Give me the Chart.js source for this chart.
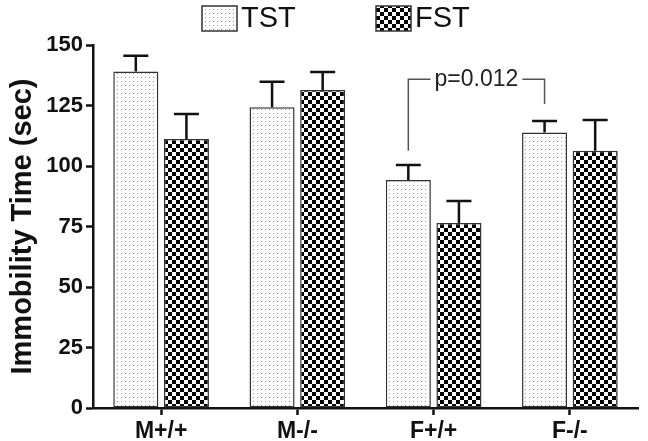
<!DOCTYPE html>
<html>
<head>
<meta charset="utf-8">
<script src="https://cdn.jsdelivr.net/npm/chart.js@4/dist/chart.umd.min.js"></script>
<style>
  html, body { margin: 0; padding: 0; background: #fff; }
</style>
</head>
<body>
<canvas id="immChart" width="648" height="441"></canvas>
<script>
// data
const groups = ["M+/+", "M-/-", "F+/+", "F-/-"];
const seriesNames = ["TST", "FST"];
const tstMean = [139, 124.3, 94.2, 113.8];
const tstSem = [6.6, 10.5, 6.2, 4.8];
const fstMean = [111.2, 131.4, 76.4, 106.3];
const fstSem = [10.3, 7.4, 9.1, 12.7];
const yTicks = [0, 25, 50, 75, 100, 125, 150];

// significance bracket: F+/+ TST vs F-/- TST
const pLabel = "p=0.012";
const bracketTop = 135.8;
const bracketLeftEnd = 106.3;
const bracketRightEnd = 125.6;

const FONT = "'Liberation Sans', Arial, sans-serif";

// fill patterns
function dotPattern() {
    const c = document.createElement("canvas");
    c.width = 4; c.height = 4;
    const g = c.getContext("2d");
    g.fillStyle = "#fff";
    g.fillRect(0, 0, 4, 4);
    g.fillStyle = "#9a9a9a";
    g.fillRect(1, 1, 1, 1);
    return g.createPattern(c, "repeat");
}
function checkerPattern() {
    const c = document.createElement("canvas");
    c.width = 8; c.height = 8;
    const g = c.getContext("2d");
    g.fillStyle = "#fff";
    g.fillRect(0, 0, 8, 8);
    g.fillStyle = "#000";
    g.fillRect(0, 0, 4, 4);
    g.fillRect(4, 4, 4, 4);
    return g.createPattern(c, "repeat");
}
const tstFill = dotPattern();
const fstFill = checkerPattern();

// error bars (SEM, upward only)
const errorBars = {
    id: "errorBars",
    afterDatasetsDraw(chart) {
        const ctx = chart.ctx;
        const y = chart.scales.y;
        const sems = [tstSem, fstSem];
        ctx.save();
        ctx.strokeStyle = "#111";
        ctx.lineWidth = 2.5;
        chart.data.datasets.forEach((ds, di) => {
            chart.getDatasetMeta(di).data.forEach((bar, i) => {
                const top = y.getPixelForValue(ds.data[i] + sems[di][i]);
                ctx.beginPath();
                ctx.moveTo(bar.x, bar.y);
                ctx.lineTo(bar.x, top);
                ctx.moveTo(bar.x - 12.5, top);
                ctx.lineTo(bar.x + 12.5, top);
                ctx.stroke();
            });
        });
        ctx.restore();
    }
};

// p-value bracket
const bracket = {
    id: "bracket",
    afterDatasetsDraw(chart) {
        const ctx = chart.ctx;
        const y = chart.scales.y;
        const bars = chart.getDatasetMeta(0).data;
        const xL = bars[2].x, xR = bars[3].x;
        const yT = y.getPixelForValue(bracketTop);
        ctx.save();
        ctx.font = "23px " + FONT;
        ctx.fillStyle = "#222";
        ctx.textAlign = "center";
        ctx.textBaseline = "middle";
        const xm = (xL + xR) / 2;
        const w = ctx.measureText(pLabel).width;
        ctx.fillText(pLabel, xm, yT);
        ctx.strokeStyle = "#555";
        ctx.lineWidth = 1.5;
        ctx.beginPath();
        ctx.moveTo(xL, y.getPixelForValue(bracketLeftEnd));
        ctx.lineTo(xL, yT);
        ctx.lineTo(xm - w / 2 - 4, yT);
        ctx.moveTo(xm + w / 2 + 4, yT);
        ctx.lineTo(xR, yT);
        ctx.lineTo(xR, y.getPixelForValue(bracketRightEnd));
        ctx.stroke();
        ctx.restore();
    }
};

// legend at the top, boxes with the same patterns
const topLegend = {
    id: "topLegend",
    afterDraw(chart) {
        const ctx = chart.ctx;
        const xs = [202, 376];
        const fills = [tstFill, fstFill];
        ctx.save();
        ctx.font = "29px " + FONT;
        ctx.textBaseline = "middle";
        seriesNames.forEach((name, i) => {
            ctx.fillStyle = fills[i];
            ctx.fillRect(xs[i], 6, 35, 25);
            ctx.strokeStyle = "#333";
            ctx.lineWidth = 1.5;
            ctx.strokeRect(xs[i], 6, 35, 25);
            ctx.fillStyle = "#111";
            ctx.fillText(name, xs[i] + 39, 19);
        });
        ctx.restore();
    }
};

new Chart(document.getElementById("immChart"), {
    type: "bar",
    data: {
        labels: groups,
        datasets: [
            { label: seriesNames[0], data: tstMean, backgroundColor: tstFill },
            { label: seriesNames[1], data: fstMean, backgroundColor: fstFill }
        ]
    },
    options: {
        responsive: false,
        animation: false,
        devicePixelRatio: 1,
        layout: { padding: { top: 45, right: 10, left: 0, bottom: 0 } },
        datasets: {
            bar: {
                categoryPercentage: 0.743,
                barPercentage: 0.89,
                borderColor: "#333",
                borderWidth: 1.5,
                borderSkipped: false
            }
        },
        plugins: {
            legend: { display: false },
            tooltip: { enabled: false }
        },
        scales: {
            x: {
                grid: { display: true, offset: false, drawOnChartArea: false, tickLength: 7, tickWidth: 2.5, tickColor: "#111" },
                border: { display: true, width: 2.5, color: "#111" },
                ticks: { color: "#111", padding: 3, font: { family: FONT, size: 23, weight: "bold" } },
                afterFit(s) { s.height = 33; }
            },
            y: {
                min: 0,
                max: 150,
                afterBuildTicks(s) { s.ticks = yTicks.map(v => ({ value: v })); },
                grid: { display: true, drawOnChartArea: false, tickLength: 7, tickWidth: 2.5, tickColor: "#111" },
                border: { display: true, width: 2.5, color: "#111" },
                ticks: { color: "#111", padding: 3, font: { family: FONT, size: 22, weight: "bold" } },
                title: {
                    display: true,
                    text: "Immobility Time (sec)",
                    color: "#111",
                    padding: { top: 6, bottom: 0 },
                    font: { family: FONT, size: 29, weight: "bold" }
                },
                afterFit(s) { s.width = 93; }
            }
        }
    },
    plugins: [errorBars, bracket, topLegend]
});
</script>
</body>
</html>
